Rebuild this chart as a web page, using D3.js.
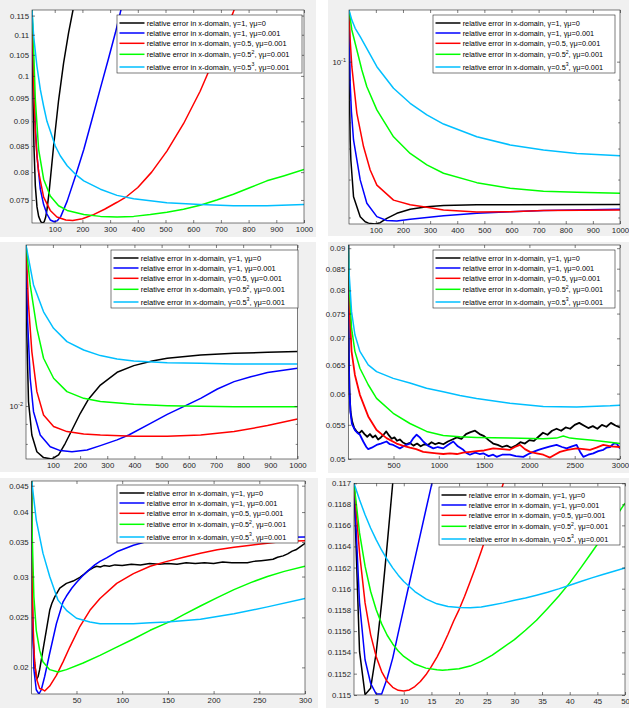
<!DOCTYPE html>
<html>
<head>
<meta charset="utf-8">
<script src="https://cdn.jsdelivr.net/npm/d3@7"></script>
<style>
  body { margin: 0; background: #fff; }
  svg { display: block; font-family: "Liberation Sans", Arial, sans-serif; }
</style>
</head>
<body>
<svg id="chart" width="629" height="708"></svg>
<script>
// ---- series style / legend ----
const seriesColors = ["#000000", "#0000ff", "#ff0000", "#00ff00", "#00bfff"];
const legendParts = [
  ["relative error in x-domain, γ=1, γμ=0", "", ""],
  ["relative error in x-domain, γ=1, γμ=0.001", "", ""],
  ["relative error in x-domain, γ=0.5, γμ=0.001", "", ""],
  ["relative error in x-domain, γ=0.5", "2", ", γμ=0.001"],
  ["relative error in x-domain, γ=0.5", "3", ", γμ=0.001"]
];

// ---- panel 1 (top left) ----
const p1XDomain = [18, 1000];
const p1YDomain = [0.0711, 0.1165];
const p1XTicks = [100, 200, 300, 400, 500, 600, 700, 800, 900, 1000];
const p1YLabels = ["0.075", "0.08", "0.085", "0.09", "0.095", "0.1", "0.105", "0.11", "0.115"];
const p1Black = [[18,0.1165],[20,0.104],[22,0.094],[25,0.085],[30,0.0775],[36,0.0738],[42,0.0722],[50,0.0713],[57,0.0711],[62,0.0713],[67,0.0720],[72,0.0733],[80,0.0765],[96,0.0850],[114,0.0945],[132,0.1030],[150,0.1105],[166,0.1165],[172,0.1195]];
const p1Blue = [[18,0.1165],[21,0.1062],[25,0.0970],[30,0.0890],[36,0.0831],[48,0.0769],[60,0.0742],[72,0.0726],[84,0.0716],[98,0.0713],[110,0.0715],[122,0.0722],[145,0.0748],[175,0.0793],[205,0.0843],[235,0.0905],[265,0.0972],[295,0.1043],[319,0.1105],[339,0.1165],[345,0.1185]];
const p1Red = [[18,0.1165],[21,0.1062],[25,0.096],[30,0.0877],[36,0.0830],[42,0.0800],[60,0.0755],[84,0.0732],[108,0.0721],[140,0.0716],[165,0.0715],[200,0.0718],[240,0.0725],[280,0.0734],[325,0.0746],[360,0.0756],[400,0.0772],[450,0.0800],[505,0.0840],[565,0.0895],[625,0.0965],[685,0.1055],[745,0.1160],[755,0.1180]];
const p1Green = [[18,0.1165],[22,0.1104],[30,0.0947],[42,0.0843],[60,0.0787],[84,0.0757],[114,0.0740],[145,0.0732],[205,0.0725],[265,0.0722],[325,0.0721],[385,0.0722],[445,0.0725],[505,0.0729],[565,0.0734],[625,0.0741],[685,0.0750],[745,0.0760],[806,0.0772],[866,0.0784],[926,0.0793],[1000,0.0805]];
const p1Cyan = [[18,0.1165],[24,0.1096],[36,0.1022],[48,0.0969],[60,0.0932],[72,0.0900],[84,0.0880],[102,0.0850],[120,0.0831],[145,0.0812],[175,0.0796],[205,0.0784],[265,0.0769],[325,0.0758],[385,0.0752],[505,0.0745],[625,0.0742],[745,0.0740],[866,0.0740],[1000,0.0742]];

// ---- panel 2 (top right, log) ----
const p2XDomain = [1, 1000];
const p2YDomain = [0.0385, 0.1355];
const p2XTicks = [100, 200, 300, 400, 500, 600, 700, 800, 900, 1000];
const p2YMajor = [0.1];
const p2YMinor = [0.04, 0.05, 0.06, 0.07, 0.08, 0.09];
const p2Black = [[1,0.1355],[1.7,0.1071],[3,0.0798],[5.4,0.0631],[7.9,0.0561],[17.7,0.0452],[42.3,0.0402],[60.7,0.0390],[73,0.0387],[97.5,0.0385],[116,0.0388],[140.5,0.0398],[177.4,0.0410],[226.5,0.0420],[288,0.0426],[349.4,0.0429],[472.2,0.0431],[595,0.0431],[1000,0.0432]];
const p2Blue = [[1,0.1355],[3,0.1114],[5.4,0.0880],[10,0.0745],[17.7,0.0631],[42.3,0.0499],[66.8,0.0435],[103.7,0.0402],[140.5,0.0393],[177.4,0.0392],[226.5,0.0396],[349.4,0.0404],[472.2,0.0410],[595,0.0414],[717.9,0.0417],[1000,0.0420]];
const p2Red = [[1,0.1355],[5.4,0.1136],[11.5,0.0971],[30,0.0738],[54.5,0.0607],[79.1,0.0529],[103.7,0.0484],[165.1,0.0443],[226.5,0.0431],[288,0.0425],[349.4,0.0418],[472.2,0.0413],[595,0.0414],[717.9,0.0417],[1000,0.0418]];
const p2Green = [[1,0.1355],[11.5,0.1205],[30,0.1071],[48.4,0.0952],[66.8,0.0863],[103.7,0.0753],[165.1,0.0643],[226.5,0.0583],[288,0.0545],[349.4,0.0519],[472.2,0.0491],[595,0.0475],[717.9,0.0467],[840.8,0.0464],[1000,0.0461]];
const p2Cyan = [[1,0.1355],[11.5,0.1277],[23.8,0.1217],[42.3,0.1158],[73,0.1061],[103.7,0.0971],[165.1,0.0855],[226.5,0.0783],[288,0.0731],[349.4,0.0693],[472.2,0.0643],[595,0.0613],[717.9,0.0595],[840.8,0.0583],[1000,0.0575]];

// ---- panel 3 (middle left, log) ----
const p3XDomain = [1, 1000];
const p3YDomain = [0.00732, 0.02578];
const p3XTicks = [100, 200, 300, 400, 500, 600, 700, 800, 900, 1000];
const p3YMajor = [0.01];
const p3YMinor = [0.008, 0.009, 0.02];
const p3Black = [[1,0.02578],[4.1,0.01518],[10.2,0.01026],[22.5,0.00843],[41,0.00764],[65.6,0.00738],[96.3,0.00732],[120.9,0.00750],[145.5,0.00803],[170.1,0.00868],[200.9,0.00958],[231.6,0.01042],[274.7,0.01131],[336.2,0.01219],[397.6,0.01268],[465.3,0.01303],[520.7,0.01324],[643.7,0.01350],[766.7,0.01363],[889.7,0.01371],[1000,0.01377]];
const p3Blue = [[1,0.02578],[6.5,0.01675],[16.4,0.01177],[28.7,0.00967],[53.3,0.00843],[90.2,0.00787],[127.1,0.00769],[170.1,0.00764],[225.5,0.00772],[274.7,0.00792],[336.2,0.00819],[379.2,0.00843],[459.2,0.00903],[520.7,0.00952],[588.3,0.01002],[643.7,0.01046],[705.2,0.01105],[766.7,0.01154],[828.2,0.01188],[889.7,0.01217],[1000,0.01248]];
const p3Red = [[1,0.02578],[10.2,0.01814],[22.5,0.01377],[41,0.01088],[65.6,0.00948],[102.5,0.00886],[151.7,0.00860],[213.2,0.00848],[274.7,0.00843],[397.6,0.00837],[520.7,0.00837],[643.7,0.00843],[766.7,0.00860],[889.7,0.00891],[1000,0.00926]];
const p3Green = [[1,0.02578],[16.4,0.02038],[41,0.01579],[65.6,0.01324],[102.5,0.01177],[151.7,0.01088],[213.2,0.01046],[274.7,0.01026],[397.6,0.01010],[520.7,0.01002],[643.7,0.00998],[766.7,0.00996],[1000,0.00996]];
const p3Cyan = [[1,0.02578],[28.7,0.02038],[65.6,0.01740],[102.5,0.01579],[151.7,0.01460],[213.2,0.01390],[274.7,0.01345],[336.2,0.01319],[397.6,0.01303],[520.7,0.01290],[643.7,0.01285],[766.7,0.01280],[1000,0.01280]];

// ---- panel 4 (middle right) ----
const p4XDomain = [1, 3000];
const p4YDomain = [0.05, 0.0908];
const p4XTicks = [500, 1000, 1500, 2000, 2500, 3000];
const p4YLabels = ["0.05", "0.055", "0.06", "0.065", "0.07", "0.075", "0.08", "0.085", "0.09"];
const p4Black = [[1,0.0908],[4,0.075],[7,0.066],[15,0.060],[26,0.057],[44,0.0555],[66,0.0545],[92,0.0540],[120,0.0537],[150,0.0541],[180,0.0536],[210,0.0532],[240,0.0536],[270,0.0531],[300,0.0534],[330,0.0528],[360,0.0531],[390,0.0535],[420,0.0540],[450,0.0534],[480,0.0529],[510,0.0531],[540,0.0526],[570,0.0528],[600,0.0524],[640,0.0521],[680,0.0523],[720,0.0519],[760,0.0522],[800,0.0518],[840,0.0521],[880,0.0520],[920,0.0524],[960,0.0521],[1000,0.0523],[1050,0.0521],[1100,0.0525],[1150,0.0528],[1200,0.0531],[1250,0.0529],[1300,0.0536],[1350,0.0539],[1400,0.0541],[1450,0.0536],[1500,0.0533],[1550,0.0527],[1600,0.0522],[1650,0.0520],[1700,0.0517],[1750,0.0519],[1800,0.0516],[1850,0.0519],[1900,0.0524],[1950,0.0522],[2000,0.0527],[2050,0.0526],[2100,0.0532],[2150,0.0538],[2200,0.0535],[2250,0.0541],[2300,0.0544],[2350,0.0541],[2400,0.0546],[2450,0.0544],[2500,0.0550],[2550,0.0553],[2600,0.0549],[2650,0.0545],[2700,0.0548],[2750,0.0544],[2800,0.0550],[2850,0.0547],[2900,0.0553],[2950,0.0549],[3000,0.0546]];
const p4Blue = [[1,0.0908],[3,0.078],[6,0.068],[12,0.061],[25,0.057],[40,0.0552],[74,0.0542],[100,0.0538],[129,0.0535],[166,0.0525],[200,0.0517],[221,0.0514],[260,0.0516],[313,0.0520],[360,0.0522],[423,0.0525],[460,0.0521],[497,0.0520],[540,0.0517],[570,0.0515],[620,0.0519],[681,0.0522],[720,0.0530],[755,0.0535],[790,0.0531],[828,0.0525],[880,0.0519],[939,0.0515],[990,0.0517],[1049,0.0515],[1100,0.0520],[1160,0.0525],[1210,0.0518],[1270,0.0513],[1310,0.0508],[1343,0.0506],[1400,0.0509],[1450,0.0507],[1491,0.0508],[1550,0.0504],[1600,0.0506],[1638,0.0503],[1700,0.0506],[1785,0.0506],[1850,0.0504],[1933,0.0503],[1990,0.0507],[2043,0.0510],[2100,0.0513],[2153,0.0515],[2230,0.0518],[2300,0.0520],[2360,0.0517],[2411,0.0515],[2470,0.0518],[2521,0.0520],[2560,0.0510],[2595,0.0503],[2650,0.0506],[2705,0.0508],[2760,0.0511],[2816,0.0513],[2850,0.0516],[2890,0.0517],[2930,0.0522],[2963,0.0522],[3000,0.0515]];
const p4Red = [[1,0.0908],[11,0.0776],[37,0.0675],[74,0.0632],[129,0.0598],[221,0.0563],[313,0.0542],[423,0.0530],[534,0.0522],[600,0.0519],[681,0.0516],[750,0.0514],[828,0.0510],[900,0.0509],[975,0.0508],[1050,0.0507],[1123,0.0508],[1200,0.0507],[1270,0.0509],[1350,0.0510],[1417,0.0511],[1500,0.0512],[1601,0.0515],[1700,0.0514],[1785,0.0513],[1840,0.0517],[1896,0.0520],[1950,0.0514],[2006,0.0510],[2080,0.0508],[2153,0.0506],[2227,0.0502],[2280,0.0506],[2337,0.0510],[2420,0.0513],[2521,0.0515],[2600,0.0514],[2669,0.0513],[2740,0.0516],[2816,0.0520],[2900,0.0518],[3000,0.0517]];
const p4Green = [[1,0.0908],[11,0.0813],[37,0.0720],[74,0.0675],[129,0.0644],[221,0.0615],[313,0.0592],[497,0.0568],[681,0.0552],[865,0.0540],[1049,0.0534],[1233,0.0532],[1417,0.0531],[1785,0.0530],[2153,0.0529],[2300,0.0530],[2374,0.0533],[2450,0.0530],[2521,0.0529],[2700,0.0527],[2890,0.0524],[3000,0.0522]];
const p4Cyan = [[1,0.0908],[11,0.0836],[37,0.0754],[74,0.0707],[129,0.0675],[221,0.0650],[313,0.0638],[497,0.0626],[681,0.0618],[865,0.0609],[1049,0.0603],[1233,0.0597],[1417,0.0592],[1785,0.0584],[2153,0.0579],[2521,0.0578],[2890,0.0580],[3000,0.0581]];

// ---- panel 5 (bottom left) ----
const p5XDomain = [1, 300];
const p5YDomain = [0.01776, 0.04595];
const p5XTicks = [50, 100, 150, 200, 250, 300];
const p5YLabels = ["0.02", "0.025", "0.03", "0.035", "0.04", "0.045"];
const p5Black = [[1,0.0460],[1.2,0.0309],[2.3,0.0229],[4.2,0.0204],[6,0.0192],[6.7,0.0190],[8,0.0192],[9.7,0.0198],[13.3,0.0216],[17,0.0236],[20.7,0.0258],[23,0.0266],[26.2,0.0274],[31.7,0.0285],[39,0.0291],[46.3,0.0294],[53.7,0.0299],[58,0.0303],[63,0.0308],[68,0.0312],[72,0.0314],[76,0.0313],[80,0.0315],[86,0.0314],[92,0.0316],[100,0.0315],[110,0.0317],[120,0.0316],[130,0.0318],[140,0.0317],[150,0.0318],[160,0.0317],[170,0.0319],[180,0.0318],[190,0.0319],[200,0.0318],[210,0.0320],[220,0.0319],[230,0.0319],[237,0.0319],[244,0.0321],[252,0.0322],[259,0.0323],[265,0.0324],[270,0.0327],[276,0.0329],[281,0.0332],[286,0.0336],[290,0.0338],[295,0.0343],[300,0.0348]];
const p5Blue = [[1,0.0460],[1.6,0.0266],[3.4,0.0198],[6,0.0181],[8.9,0.01776],[11.5,0.0181],[15.2,0.0192],[20.7,0.0213],[28,0.0243],[35.3,0.0268],[39,0.0275],[45,0.0285],[50,0.0292],[56,0.0300],[62.8,0.0308],[70,0.0316],[75.7,0.0321],[83,0.0326],[94,0.0335],[112.3,0.0345],[125,0.0350],[150,0.0353],[185.6,0.0355],[222.3,0.0356],[258.9,0.0357],[300,0.0358]];
const p5Red = [[1,0.0460],[1.2,0.0333],[2.3,0.0247],[4.2,0.0204],[6.7,0.0189],[9.7,0.0182],[13.3,0.0181],[15.2,0.0180],[20.7,0.0184],[28,0.0193],[35.3,0.0205],[42.7,0.0219],[53.7,0.0240],[64.7,0.0258],[75.7,0.0272],[94,0.0291],[112.3,0.0304],[130.6,0.0314],[149,0.0321],[167.3,0.0327],[185.6,0.0333],[204,0.0338],[222.3,0.0342],[240.6,0.0345],[258.9,0.0348],[277.3,0.0351],[300,0.0352]];
const p5Green = [[1,0.0460],[1.6,0.0359],[3.4,0.0274],[6,0.0236],[9.7,0.0216],[13.3,0.0205],[20.7,0.0198],[29.8,0.0196],[39,0.0198],[57.3,0.0204],[75.7,0.0211],[94,0.0219],[112.3,0.0227],[130.6,0.0236],[149,0.0244],[156.3,0.0247],[167.3,0.0253],[185.6,0.0263],[204,0.0273],[222.3,0.0283],[240.6,0.0292],[258.9,0.0300],[277.3,0.0307],[300,0.0314]];
const p5Cyan = [[1,0.0460],[6,0.0386],[13.3,0.0333],[20.7,0.0300],[29.8,0.0270],[39,0.0258],[50,0.0249],[64.7,0.0245],[75.7,0.0243],[94,0.0243],[112.3,0.0243],[130.6,0.0244],[149,0.0245],[185.6,0.0248],[222.3,0.0254],[258.9,0.0262],[300,0.0272]];

// ---- panel 6 (bottom right) ----
const p6XDomain = [1, 50];
const p6YDomain = [0.115, 0.117];
const p6XTicks = [5, 10, 15, 20, 25, 30, 35, 40, 45, 50];
const p6YLabels = ["0.115", "0.1152", "0.1154", "0.1156", "0.1158", "0.116", "0.1162", "0.1164", "0.1166", "0.1168", "0.117"];
const p6Black = [[1,0.1170],[2,0.115409],[3,0.115003],[4,0.115063],[5,0.115394],[6,0.115866],[7,0.116417],[8,0.117],[9,0.117598]];
const p6Blue = [[1,0.117],[2,0.115866],[3,0.115331],[4,0.11511],[5,0.11501],[6,0.11501],[7,0.115157],[8,0.115346],[9,0.115583],[10,0.115816],[11,0.116049],[12,0.116282],[13,0.116515],[14,0.116748],[15,0.116981],[16,0.117214]];
const p6Red = [[1,0.117],[2,0.116339],[3,0.115866],[4,0.115567],[5,0.115362],[6,0.11522],[7,0.115126],[8,0.115072],[9,0.115044],[10,0.115038],[11,0.115047],[12,0.115079],[13,0.115126],[14,0.115189],[15,0.115268],[16,0.115356],[17,0.115457],[18,0.11557],[19,0.115693],[20,0.115803],[21,0.115929],[22,0.116065],[23,0.116206],[24,0.116354],[25,0.116509],[26,0.116669],[27,0.116833],[28,0.117],[29,0.117173]];
const p6Green = [[1,0.117],[2,0.116528],[3,0.116213],[4,0.115976],[5,0.115803],[6,0.115668],[7,0.115561],[8,0.115479],[9,0.115413],[10,0.115362],[12,0.11529],[14,0.115252],[16,0.115236],[17,0.115233],[18,0.115236],[20,0.115246],[22,0.115271],[24,0.115315],[26,0.115375],[28,0.115447],[30,0.11552],[32,0.115608],[34,0.115702],[36,0.115813],[38,0.115929],[40,0.116055],[42,0.116197],[44,0.116345],[46,0.116496],[48,0.116654],[50,0.116811]];
const p6Cyan = [[1,0.117],[2,0.116843],[3,0.116701],[4,0.116575],[5,0.116465],[6,0.116364],[7,0.116276],[8,0.116197],[9,0.116128],[10,0.116068],[12,0.115973],[14,0.115904],[16,0.115857],[18,0.115831],[20,0.115822],[22,0.115819],[24,0.115828],[26,0.115847],[28,0.115866],[30,0.115891],[32,0.115913],[34,0.115939],[36,0.115967],[38,0.115998],[40,0.116033],[42,0.116068],[44,0.116102],[46,0.116134],[48,0.116165],[50,0.116197]];

// ---- page layout (pixels) ----
const layout = [
  { bg: [0, 0, 316, 237],     plot: [32, 10, 304, 223],      legend: [117, 15, 185] },
  { bg: [328, 0, 301, 236],   plot: [349, 10, 620, 224],     legend: [433, 15, 182] },
  { bg: [0, 242, 316, 230],   plot: [26, 245, 297.5, 459],   legend: [111, 250, 187] },
  { bg: [328, 242, 301, 231], plot: [348.3, 245, 620, 459],  legend: [433, 250, 182] },
  { bg: [0, 478, 318, 230],   plot: [31.7, 481, 305, 694],   legend: [117, 485, 181] },
  { bg: [326, 478, 303, 230], plot: [354, 483.3, 625, 695],  legend: [439, 487, 181] }
];
const legendRows = [8, 18, 28.3, 39.3, 52];
const legendHeight = 58;
const axisColor = "#262626";

const panels = [
  { series: [p1Black, p1Blue, p1Red, p1Green, p1Cyan], xDomain: p1XDomain, yDomain: p1YDomain, xTicks: p1XTicks, yLabels: p1YLabels },
  { series: [p2Black, p2Blue, p2Red, p2Green, p2Cyan], xDomain: p2XDomain, yDomain: p2YDomain, xTicks: p2XTicks, yMajor: p2YMajor, yExp: "-1", yMinor: p2YMinor },
  { series: [p3Black, p3Blue, p3Red, p3Green, p3Cyan], xDomain: p3XDomain, yDomain: p3YDomain, xTicks: p3XTicks, yMajor: p3YMajor, yExp: "-2", yMinor: p3YMinor },
  { series: [p4Black, p4Blue, p4Red, p4Green, p4Cyan], xDomain: p4XDomain, yDomain: p4YDomain, xTicks: p4XTicks, yLabels: p4YLabels },
  { series: [p5Black, p5Blue, p5Red, p5Green, p5Cyan], xDomain: p5XDomain, yDomain: p5YDomain, xTicks: p5XTicks, yLabels: p5YLabels },
  { series: [p6Black, p6Blue, p6Red, p6Green, p6Cyan], xDomain: p6XDomain, yDomain: p6YDomain, xTicks: p6XTicks, yLabels: p6YLabels }
];

const svg = d3.select("#chart");

function styleAxis(sel) {
  sel.select(".domain").remove();
  sel.attr("font-family", null).attr("font-size", 7.8);
  sel.selectAll(".tick line").attr("stroke", axisColor).attr("stroke-width", 0.6);
  sel.selectAll(".tick text").attr("fill", axisColor);
}

// one legend row: main text, optional superscript, tail
function legendRow(lg, parts, x, y, fs) {
  const t = lg.append("text").attr("x", x).attr("y", y).attr("dy", "0.35em")
    .attr("font-size", fs).attr("fill", "#000");
  t.append("tspan").attr("font-size", fs).text(parts[0]);
  if (parts[1]) {
    t.append("tspan").attr("font-size", fs * 0.7).attr("dy", -fs * 0.42).text(parts[1]);
    t.append("tspan").attr("font-size", fs).attr("dy", fs * 0.42).text(parts[2]);
  }
  return t;
}

function drawPanel(p, L, i) {
  const [bx, by, bw, bh] = L.bg;
  const [x0, y0, x1, y1] = L.plot;
  const g = svg.append("g");

  g.append("rect").attr("x", bx).attr("y", by).attr("width", bw).attr("height", bh).attr("fill", "#f0f0f0");
  g.append("rect").attr("x", x0).attr("y", y0).attr("width", x1 - x0).attr("height", y1 - y0).attr("fill", "#fff");

  const x = d3.scaleLinear().domain(p.xDomain).range([x0, x1]);
  const y = d3.scaleLog().domain(p.yDomain).range([y1, y0]);

  // curves, clipped to the axes box
  const clipId = "clip" + i;
  g.append("clipPath").attr("id", clipId).append("rect")
    .attr("x", x0).attr("y", y0).attr("width", x1 - x0).attr("height", y1 - y0);
  const line = d3.line().x(d => x(d[0])).y(d => y(d[1]));
  const gl = g.append("g").attr("clip-path", `url(#${clipId})`);
  p.series.forEach((s, k) => {
    gl.append("path").datum(s)
      .attr("d", line)
      .attr("fill", "none")
      .attr("stroke", seriesColors[k])
      .attr("stroke-width", i === 3 && k < 3 ? 1.8 : 1.5)
      .attr("stroke-linejoin", "round");
  });

  // x axis: labels at bottom, inward ticks bottom + top
  const axB = d3.axisBottom(x).tickValues(p.xTicks).tickSizeInner(-3).tickSizeOuter(0).tickPadding(3).tickFormat(d3.format("d"));
  g.append("g").attr("transform", `translate(0,${y1})`).call(axB).call(styleAxis);
  const axT = d3.axisTop(x).tickValues(p.xTicks).tickSizeInner(-3).tickSizeOuter(0).tickFormat("");
  g.append("g").attr("transform", `translate(0,${y0})`).call(axT).call(styleAxis);

  // y axis
  const yVals = p.yLabels ? p.yLabels.map(Number) : p.yMajor;
  const axL = d3.axisLeft(y).tickValues(yVals).tickSizeInner(-3).tickSizeOuter(0).tickPadding(3)
    .tickFormat((d, j) => p.yLabels ? p.yLabels[j] : "");
  const gL = g.append("g").attr("transform", `translate(${x0},0)`).call(axL).call(styleAxis);
  const axR = d3.axisRight(y).tickValues(yVals).tickSizeInner(-3).tickSizeOuter(0).tickFormat("");
  g.append("g").attr("transform", `translate(${x1},0)`).call(axR).call(styleAxis);

  if (!p.yLabels) {
    // log axis: 10^n label + unlabeled minor ticks
    gL.selectAll(".tick text").each(function() {
      const t = d3.select(this);
      t.text("10");
      t.append("tspan").attr("dy", "-0.5em").attr("font-size", 5.5).text(p.yExp);
    });
    const mL = d3.axisLeft(y).tickValues(p.yMinor).tickSizeInner(-1.8).tickSizeOuter(0).tickFormat("");
    g.append("g").attr("transform", `translate(${x0},0)`).call(mL).call(styleAxis);
    const mR = d3.axisRight(y).tickValues(p.yMinor).tickSizeInner(-1.8).tickSizeOuter(0).tickFormat("");
    g.append("g").attr("transform", `translate(${x1},0)`).call(mR).call(styleAxis);
  }

  // axes box
  g.append("rect").attr("x", x0).attr("y", y0).attr("width", x1 - x0).attr("height", y1 - y0)
    .attr("fill", "none").attr("stroke", axisColor).attr("stroke-width", 0.6);

  // legend
  const [lx, ly, lw] = L.legend;
  const lg = g.append("g");
  lg.append("rect").attr("x", lx).attr("y", ly).attr("width", lw).attr("height", legendHeight)
    .attr("fill", "#fff").attr("stroke", axisColor).attr("stroke-width", 0.6);

  // size the font so the plain γ=0.5 row spans the same share of the box as in the figure
  const probe = legendRow(lg, legendParts[2], 0, -100, 10);
  const fs = 10 * (0.757 * lw) / probe.node().getComputedTextLength();
  probe.remove();

  legendParts.forEach((parts, k) => {
    const yy = ly + legendRows[k];
    lg.append("line")
      .attr("x1", lx + 2.5).attr("x2", lx + 27.5).attr("y1", yy).attr("y2", yy)
      .attr("stroke", seriesColors[k]).attr("stroke-width", 1.5);
    legendRow(lg, parts, lx + 29.7, yy, fs);
  });
}

panels.forEach((p, i) => drawPanel(p, layout[i], i));
</script>
</body>
</html>
